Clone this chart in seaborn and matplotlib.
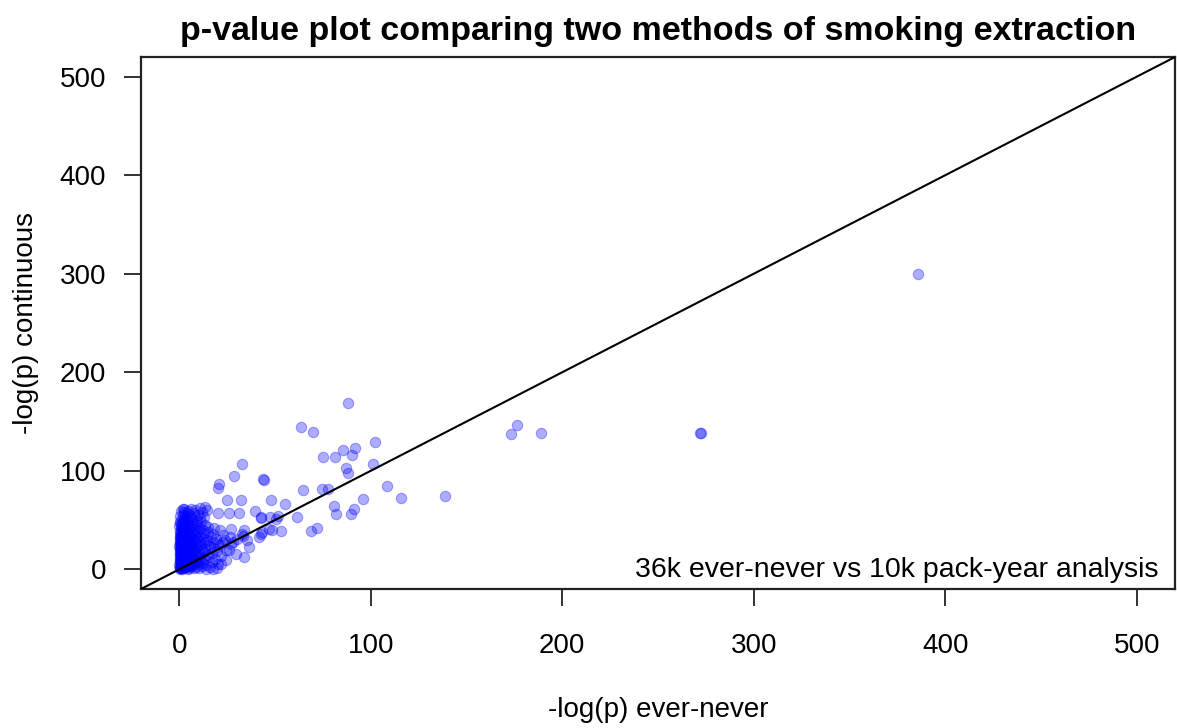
import matplotlib
matplotlib.use("Agg")
import matplotlib.pyplot as plt
import seaborn as sns
import pandas as pd

# -log(p) for SNPs tested in both analyses: ever-never (x) vs pack-year continuous (y)
# Bulk of SNPs close to the origin
core_ever_never = [
    0.2, 0.9, 1.6, 2.5, 3.4, 4.3, 5.2, 6.4, 7.5, 8.7, 10.1, 11.8, 13.9, 16.2, 19.5,
    0.1, 0.7, 1.3, 2.0, 2.9, 3.8, 4.6, 5.6, 6.7, 7.8, 9.0, 10.5, 12.2, 14.1, 17.0, 20.3,
    0.3, 1.0, 1.8, 2.7, 3.5, 4.4, 5.3, 6.1, 7.2, 8.4, 9.8, 11.3, 13.0, 15.4, 18.6, 22.0,
    0.2, 0.8, 1.5, 2.3, 3.2, 4.1, 5.0, 6.0, 7.1, 8.3, 9.6, 11.0, 12.7, 14.5, 16.9, 19.8, 24.5,
    0.4, 1.1, 1.9, 2.8, 3.7, 4.6, 5.5, 6.6, 7.7, 8.9, 10.2, 11.7, 13.4, 15.8, 18.1, 21.5, 27.0,
    0.1, 0.9, 1.7, 2.6, 3.4, 4.3, 5.3, 6.3, 7.4, 8.6, 10.0, 11.5, 13.2, 15.0, 17.6, 20.4, 23.8, 30.2,
    0.3, 1.2, 2.1, 3.0, 3.9, 4.9, 5.9, 6.9, 8.0, 9.3, 10.8, 12.4, 14.3, 16.7, 19.2, 22.6, 26.3, 33.1,
    0.2, 1.0, 1.9, 2.8, 3.7, 4.7, 5.7, 6.8, 8.1, 9.5, 11.1, 12.9, 15.1, 17.8, 21.0,
    0.4, 1.3, 2.2, 3.2, 4.2, 5.3, 6.4, 7.6, 9.0, 10.6, 12.5, 14.8, 18.2,
    0.1, 1.0, 2.0, 3.0, 4.1, 5.2, 6.5, 7.9, 9.4, 11.2, 13.5,
    0.3, 1.4, 2.5, 3.6, 4.8, 6.1, 7.4, 9.0, 10.8, 13.0,
    0.6, 1.8, 3.0, 4.4, 5.9, 7.5, 9.6, 12.1,
    1.0, 2.6, 4.3, 6.2, 8.4, 11.0, 14.5,
    0.5, 1.4, 2.2, 3.1, 0.6, 1.6, 2.4, 3.3, 4.0, 0.4, 1.2, 2.0, 2.9, 0.6, 1.4, 2.4, 3.5,
    0.3, 1.3, 2.2, 3.1, 0.5, 1.5, 2.4, 3.6, 0.7, 1.6, 2.5, 0.5, 1.7, 2.6, 0.8, 1.8, 0.2, 1.5,
    4.5, 5.8, 4.9, 6.0, 5.1, 6.3, 4.5, 5.4,
    0.15, 0.35, 0.8, 0.25, 0.7, 0.45, 0.9, 0.2, 0.65, 0.35, 0.85, 0.2, 0.6, 0.9,
    1.1, 1.9, 1.5, 2.3, 1.2, 2.0, 1.0, 1.9, 1.3, 2.7, 3.6, 2.6, 3.3, 2.8,
]
core_continuous = [
    0.5, 1.8, 0.3, 1.1, 2.2, 0.7, 1.6, 2.9, 0.9, 2.4, 1.3, 3.1, 0.8, 2.2, 1.0,
    4.6, 5.9, 4.1, 6.3, 5.0, 6.8, 4.4, 5.7, 6.5, 4.9, 7.1, 5.4, 6.8, 4.7, 7.4, 5.2,
    8.8, 10.2, 9.1, 10.9, 8.5, 9.9, 11.2, 8.7, 10.5, 9.3, 11.6, 9.0, 10.8, 12.1, 10.3, 13.4,
    13.5, 14.9, 13.1, 15.4, 14.0, 16.1, 13.6, 15.2, 14.3, 16.6, 13.9, 15.8, 17.2, 14.6, 16.9, 18.8, 19.6,
    18.2, 19.7, 18.6, 20.3, 19.0, 21.2, 18.4, 20.6, 19.4, 21.8, 18.9, 21.0, 20.1, 22.5, 21.3, 24.2, 25.8,
    23.4, 24.8, 23.1, 25.6, 24.2, 26.3, 23.7, 25.1, 24.4, 26.9, 23.9, 25.9, 27.4, 24.6, 27.9, 26.1, 29.7, 30.4,
    28.6, 30.1, 28.9, 30.8, 29.3, 31.4, 28.5, 30.7, 29.6, 32.0, 29.2, 31.5, 30.2, 33.1, 31.0, 34.5, 32.8, 34.0,
    33.8, 35.2, 33.4, 36.1, 34.6, 36.8, 33.9, 35.7, 34.8, 37.3, 34.3, 36.5, 38.2, 35.6, 39.4,
    38.9, 40.4, 38.3, 41.1, 39.7, 41.9, 38.6, 40.8, 39.5, 42.3, 40.1, 43.0, 41.7,
    43.6, 45.1, 44.0, 46.2, 44.5, 47.0, 43.9, 46.4, 45.2, 47.8, 44.8,
    48.7, 50.3, 49.0, 51.2, 49.6, 52.0, 50.4, 48.9, 51.6, 53.4,
    54.1, 55.6, 53.8, 56.2, 54.5, 57.1, 55.0, 58.3,
    59.4, 60.8, 58.9, 61.5, 59.9, 62.7, 60.5,
    2.7, 3.6, 2.0, 3.9, 7.3, 7.8, 8.1, 7.5, 12.3, 11.6, 12.0, 11.8, 12.7, 16.8, 16.3, 17.5, 17.0,
    21.4, 22.0, 21.7, 22.6, 26.9, 27.3, 26.6, 27.8, 31.8, 32.4, 31.1, 36.9, 37.5, 36.4, 41.9, 42.5, 46.8, 47.4,
    3.3, 3.8, 7.9, 12.5, 16.9, 22.8, 28.2, 33.1,
    1.2, 3.3, 6.6, 9.9, 12.9, 15.3, 18.0, 20.1, 23.0, 25.7, 28.1, 30.9, 33.0, 38.0,
    2.6, 5.4, 9.5, 13.9, 17.1, 20.8, 25.2, 29.4, 34.0, 4.2, 11.0, 19.3, 25.0, 32.8,
]

# Stronger associations, spread out along the diagonal
tail_ever_never = [
    88.0, 63.7, 69.8, 102.4, 85.6, 92.0, 90.3, 75.3, 81.3, 101.0, 87.2, 88.2,
    33.0, 28.5, 43.9, 44.3, 64.6, 74.3, 77.8, 108.3, 96.0, 80.9, 81.6, 91.1,
    89.8, 61.6, 47.9, 55.2, 32.3, 39.6, 42.9, 47.2, 51.6, 50.3, 72.0, 68.9,
    53.3, 48.3, 33.7, 42.7, 116.0, 138.9, 176.2, 173.1, 189.1, 272.0, 272.3,
    385.8, 20.8, 20.0, 24.7, 13.5, 1.7, 20.0, 26.0, 31.3, 2.6, 42.5, 46.9,
    26.9, 32.6, 41.7, 43.4, 36.5, 29.5, 24.3, 17.4, 35.6, 22.6, 27.8, 33.9,
    26.0, 21.7,
]
tail_continuous = [
    168.7, 144.9, 139.2, 129.0, 121.2, 122.9, 116.1, 113.7, 113.7, 106.6, 102.5, 97.4,
    106.6, 95.0, 91.6, 91.0, 80.4, 81.5, 81.5, 84.8, 71.3, 64.5, 55.7, 60.8,
    55.7, 53.0, 70.3, 65.9, 70.0, 59.1, 53.3, 53.3, 54.0, 50.6, 42.1, 38.7,
    38.7, 39.7, 39.7, 36.3, 72.6, 74.6, 146.0, 137.5, 138.2, 138.2, 138.6,
    299.4, 86.6, 82.2, 70.3, 63.5, 60.8, 56.7, 57.3, 57.3, 58.4, 51.6, 41.4,
    41.4, 36.3, 32.9, 38.0, 22.7, 16.0, 9.2, 0.7, 29.5, 27.8, 27.8, 12.5,
    19.3, 5.8,
]

axis_ticks = [0, 100, 200, 300, 400, 500]
axis_limits = (-20, 520)

title_text = "p-value plot comparing two methods of smoking extraction"
x_label = "-log(p) ever-never"
y_label = "-log(p) continuous"
note_text = "36k ever-never vs 10k pack-year analysis"

df = pd.DataFrame({
    "ever_never": core_ever_never + tail_ever_never,
    "continuous": core_continuous + tail_continuous,
})

sns.set_theme(style="white")
plt.rcParams["font.family"] = ["Liberation Sans", "DejaVu Sans"]

fig = plt.figure(figsize=(11.77, 7.28), dpi=100)
ax = fig.add_axes([141 / 1177, 1 - 589 / 728, (1175 - 141) / 1177, (589 - 57) / 728])

sns.scatterplot(data=df, x="ever_never", y="continuous", ax=ax,
                color=(0, 0, 1), alpha=0.32, s=56,
                edgecolor=(0, 0, 1), linewidth=0.8, legend=False)

ax.axline((0, 0), slope=1, color="black", lw=1.5, zorder=3)

ax.set_xlim(*axis_limits)
ax.set_ylim(*axis_limits)
ax.set_xticks(axis_ticks)
ax.set_yticks(axis_ticks)
ax.tick_params(axis="both", which="major", direction="out", color="#222222",
               length=12, width=1.3, labelsize=20, labelcolor="black",
               bottom=True, left=True)
ax.tick_params(axis="x", pad=20)
ax.tick_params(axis="y", pad=13)
for s in ax.spines.values():
    s.set_color("#222222")
    s.set_linewidth(1.6)

ax.set_xlabel(x_label, fontsize=20, labelpad=27, color="black")
ax.set_ylabel(y_label, fontsize=20, labelpad=15, color="black")
ax.set_title(title_text, fontsize=24.5, fontweight="bold", pad=12, color="black")

ax.text(0.9845, 0.036, note_text, transform=ax.transAxes, ha="right", va="center",
        fontsize=20.5, color="black")

fig.savefig("out.png", dpi=100)
